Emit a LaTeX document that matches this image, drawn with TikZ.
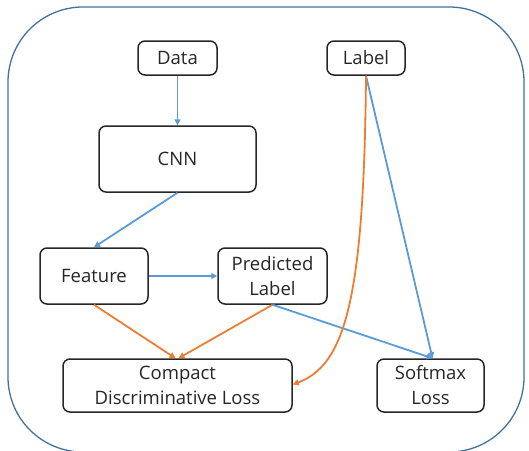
\documentclass[tikz,border=0pt]{standalone}
\usepackage{fontspec}
\setmainfont{Open Sans}
\usetikzlibrary{arrows.meta}
\definecolor{fblue}{HTML}{41719C}
\definecolor{ablue}{HTML}{5B9BD5}
\definecolor{aorange}{HTML}{ED7D31}
\begin{document}
\begin{tikzpicture}[x=1pt,y=-1pt,
  box/.style={draw=black!85,line width=1.5pt,rounded corners=7pt,align=center,font=\fontsize{18.5}{25}\selectfont,inner sep=0pt,text=black!85},
  barrow/.style={draw=ablue,line width=1.8pt,-{Triangle[length=6pt,width=6pt]}},
  oarrow/.style={draw=aorange,line width=1.8pt,-{Triangle[length=6pt,width=6pt]}}]
\useasboundingbox (0,0) rectangle (529,450);
\draw[fblue,line width=1.3pt,rounded corners=75pt] (8,7) rectangle (524,452);
\node[box,minimum width=79pt,minimum height=34pt] (data) at (177.5,58) {Data};
\node[box,minimum width=78pt,minimum height=34pt] (label) at (366,58) {Label};
\node[box,minimum width=157pt,minimum height=66pt] (cnn) at (177.5,159) {CNN};
\node[box,minimum width=108pt,minimum height=56pt] (feat) at (94,276) {Feature};
\node[box,minimum width=109pt,minimum height=56pt] (pred) at (272.5,276) {Predicted\\Label};
\node[box,minimum width=229pt,minimum height=53pt] (cdl) at (177.5,385.5) {Compact\\Discriminative Loss};
\node[box,minimum width=107pt,minimum height=53pt] (soft) at (430.5,385.5) {Softmax\\Loss};
\draw[barrow] (data.south) -- (cnn.north);
\draw[barrow] (cnn.south) -- (feat.north);
\draw[barrow] (feat.east) -- (pred.west);
\draw[oarrow] (feat.south) -- ([xshift=-2pt]cdl.north);
\draw[oarrow] (pred.south) -- ([xshift=1pt]cdl.north);
\draw[barrow] (pred.south) -- ([xshift=2pt]soft.north);
\draw[barrow] (label.south) -- ([xshift=2pt]soft.north);
\draw[oarrow] (label.south) .. controls (364,300) and (345,365) .. ([yshift=1pt]cdl.east);
\end{tikzpicture}
\end{document}
